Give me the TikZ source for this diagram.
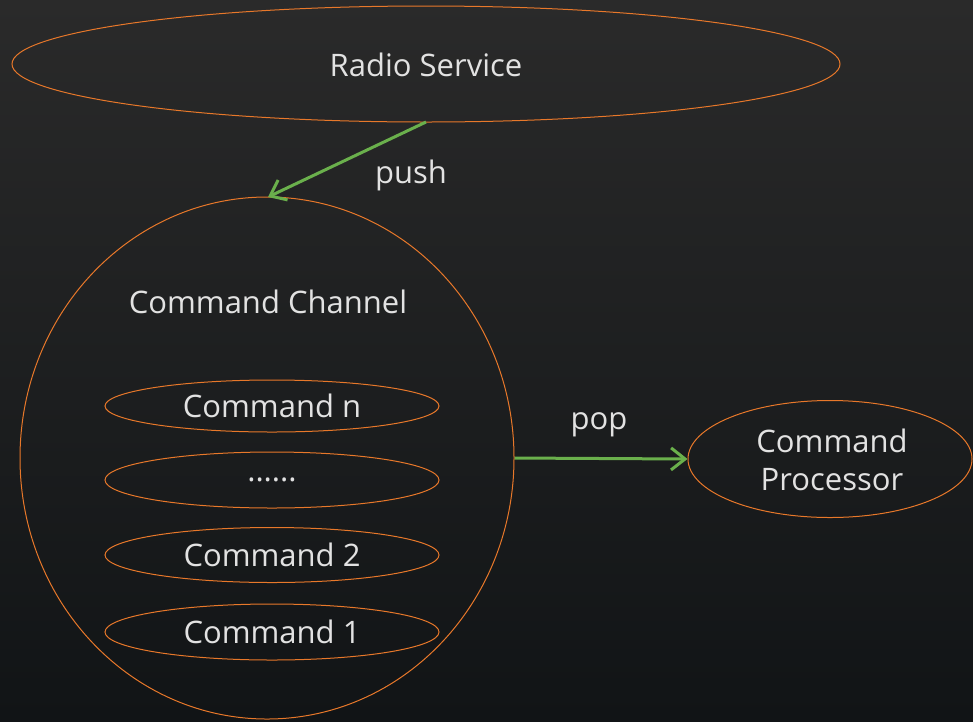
\documentclass[tikz,border=0pt]{standalone}
\usepackage{fontspec}
\setmainfont{Open Sans}
\usetikzlibrary{shapes.geometric,arrows.meta}
\definecolor{bgtop}{HTML}{2A2A2A}
\definecolor{bgbot}{HTML}{111416}
\definecolor{edgeorange}{HTML}{E8782A}
\definecolor{flowgreen}{HTML}{6AB04C}
\definecolor{txt}{HTML}{E2E2E2}
\tikzset{
  blob/.style={ellipse, draw=edgeorange, line width=1pt, inner sep=0pt},
  flow/.style={draw=flowgreen, line width=3pt, -{Straight Barb[length=14pt,width=22pt,line width=3pt]}},
  lbl/.style={text=txt, inner sep=0pt, font=\fontsize{31}{38}\selectfont},
}
\begin{document}
\begin{tikzpicture}[x=1pt,y=-1pt]
  \shade[top color=bgtop, bottom color=bgbot] (0,0) rectangle (973,721);
  \useasboundingbox (0,0) rectangle (973,721);
  % outer shapes
  \node[blob, minimum width=828pt, minimum height=116pt] (radio) at (426,64) {};
  \node[lbl] at (426,65) {Radio Service};
  \node[blob, minimum width=494pt, minimum height=522pt] (chan) at (267,458) {};
  \node[lbl] (chanlbl) at (268,302) {Command Channel};
  % queued commands
  \node[blob, minimum width=334pt, minimum height=52pt] (cn) at (272,406) {};
  \node[lbl] at (272,406) {Command n};
  \node[blob, minimum width=334pt, minimum height=56pt] (cdots) at (272,480) {};
  \node[lbl] at (272,480) {......};
  \node[blob, minimum width=334pt, minimum height=55pt] (c2) at (272,555) {};
  \node[lbl] at (272,555) {Command 2};
  \node[blob, minimum width=334pt, minimum height=56pt] (c1) at (272,632) {};
  \node[lbl] at (272,632) {Command 1};
  % processor
  \node[blob, minimum width=284pt, minimum height=117pt] (proc) at (830,459) {};
  \node[lbl, align=center] at (832,460) {Command\\Processor};
  % flows
  \coordinate (pushfrom) at (426,122);
  \coordinate (pushto) at (268,197);
  \draw[flow] (pushfrom) -- (pushto);
  \node[lbl] (pushlbl) at (411,175) {push};
  \draw[flow] (chan.east) -- (proc.west);
  \node[lbl] (poplbl) at (599,425) {pop};
\end{tikzpicture}
\end{document}
